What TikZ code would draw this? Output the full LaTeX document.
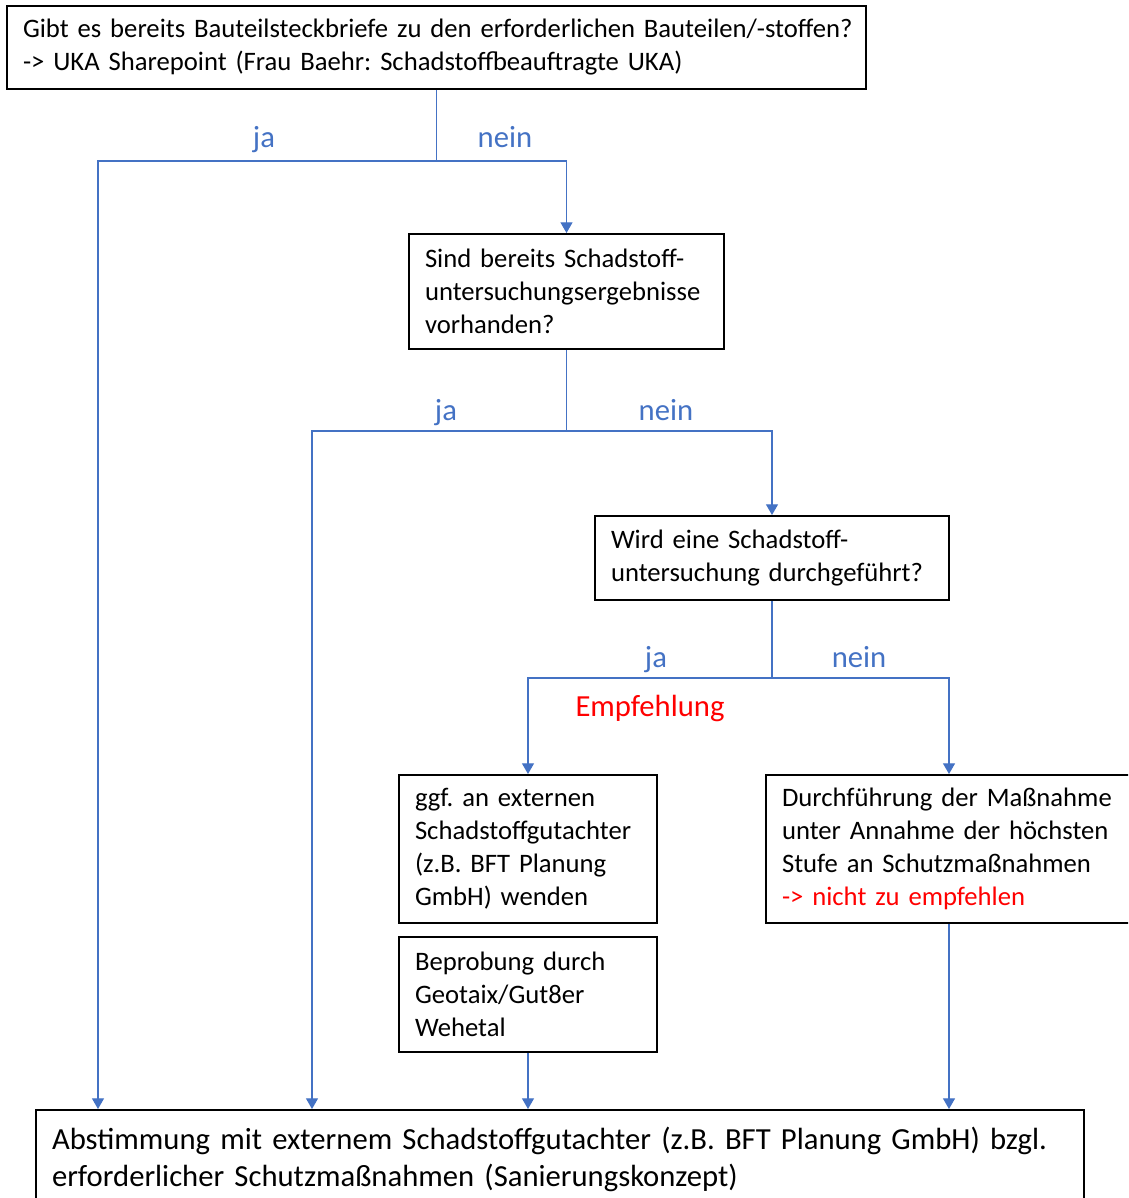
\documentclass[tikz,border=0pt]{standalone}
\usepackage{fontspec}
\setmainfont{Carlito}
\usetikzlibrary{arrows.meta}
\definecolor{lineblue}{HTML}{4472C4}
\definecolor{hintred}{HTML}{FF0000}
\frenchspacing

\begin{document}
\begin{tikzpicture}[x=0.75pt,y=-0.75pt,
    box/.style={draw, line width=1.5pt, rectangle, align=left, inner xsep=12pt, inner ysep=0pt,
                font=\fontsize{20}{24.75}\selectfont},
    link/.style={draw=lineblue, line width=0.9pt},
    arrow/.style={link, -{Triangle[width=9pt,length=8pt]}},
    answer/.style={text=lineblue, anchor=base, inner sep=0pt, font=\fontsize{23}{27}\selectfont}]

  \useasboundingbox (0,0) rectangle (1128,1198);
  \clip (0,0) rectangle (1128,1198);

  \node[box, minimum width=644.25pt, minimum height=62.25pt, text width=620.25pt] (top) at (436.5,47.5)
    {\mbox{Gibt es bereits Bauteilsteckbriefe zu den erforderlichen Bauteilen/-stoffen?}\\-> UKA Sharepoint (Frau Baehr: Schadstoffbeauftragte UKA)};
  \node[box, minimum width=236.25pt, minimum height=86.25pt, text width=212.25pt] (results) at (566.5,291.5)
    {Sind bereits Schadstoff-\\untersuchungsergebnisse\\vorhanden?};
  \node[box, minimum width=265.5pt, minimum height=63pt, text width=241.5pt] (survey) at (772,558)
    {Wird eine Schadstoff-\\untersuchung durchgeführt?};
  \node[box, minimum width=193.5pt, minimum height=111pt, text width=169.5pt] (expert) at (528,849)
    {ggf. an externen\\Schadstoffgutachter\\(z.B. BFT Planung\\GmbH) wenden};
  \node[box, minimum width=193.5pt, minimum height=86.25pt, text width=169.5pt] (sampling) at (528,994.5)
    {Beprobung durch\\Geotaix/Gut8er\\Wehetal};
  \node[box, minimum width=274.5pt, minimum height=111pt, text width=250.5pt] (worstcase) at (949,849)
    {Durchführung der Maßnahme\\unter Annahme der höchsten\\Stufe an Schutzmaßnahmen\\\textcolor{hintred}{-> nicht zu empfehlen}};
  \node[box, minimum width=786pt, minimum height=73.5pt, text width=762pt,
        font=\fontsize{23}{27.75}\selectfont] (concept) at (560,1159)
    {\mbox{Abstimmung mit externem Schadstoffgutachter (z.B. BFT Planung GmbH) bzgl.}\\erforderlicher Schutzmaßnahmen (Sanierungskonzept)};

  \coordinate (split1) at (top.south |- 0,161);
  \coordinate (left1) at (98,161);
  \coordinate (split2) at (results.south |- 0,431);
  \coordinate (left2) at (312,431);
  \coordinate (split3) at (survey.south |- 0,678);

  \draw[link] (top.south) -- (split1);
  \draw[arrow] (split1) -| (results.north);
  \draw[arrow] (split1) -- (left1) -- (left1 |- concept.north);
  \draw[link] (results.south) -- (split2);
  \draw[arrow] (split2) -| (survey.north);
  \draw[arrow] (split2) -- (left2) -- (left2 |- concept.north);
  \draw[link] (survey.south) -- (split3);
  \draw[arrow] (split3) -| (expert.north);
  \draw[arrow] (split3) -| (worstcase.north);
  \draw[arrow] (sampling.south) -- (sampling.south |- concept.north);
  \draw[arrow] (worstcase.south) -- (worstcase.south |- concept.north);

  \node[answer] (ja1) at (264,148) {ja};
  \node[answer] (nein1) at (505,148) {nein};
  \node[answer] (ja2) at (446,420) {ja};
  \node[answer] (nein2) at (666,420) {nein};
  \node[answer] (ja3) at (656,667) {ja};
  \node[answer] (nein3) at (859,667) {nein};
  \node[answer, text=hintred] (hint) at (650,716) {Empfehlung};
\end{tikzpicture}
\end{document}
